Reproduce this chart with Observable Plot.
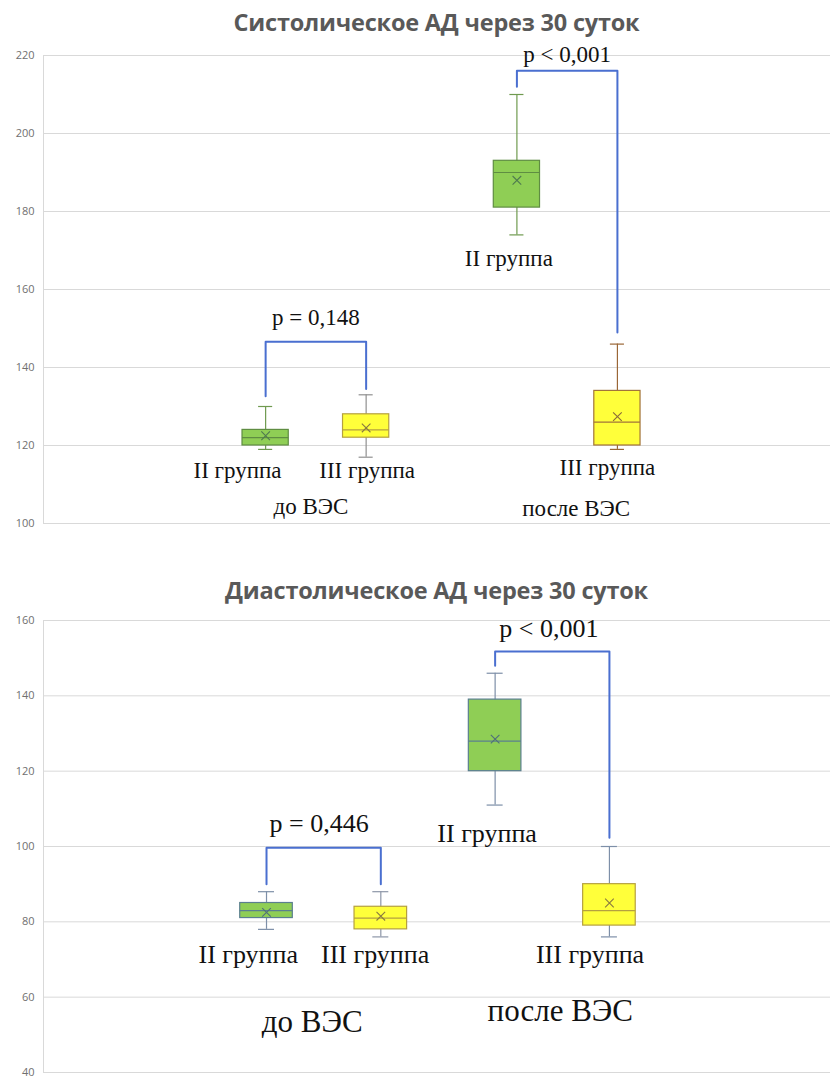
<!DOCTYPE html>
<html><head><meta charset="utf-8">
<script src="https://cdn.jsdelivr.net/npm/d3@7"></script>
<script src="https://cdn.jsdelivr.net/npm/@observablehq/plot@0.6"></script>
<style>
body{margin:0;background:#fff;}
#wrap{position:relative;width:830px;height:1079px;overflow:hidden;background:#fff;}
.title{position:absolute;left:43px;width:787px;text-align:center;font-family:"Open Sans",sans-serif;font-weight:700;font-size:23.5px;color:#595959;line-height:28px;height:28px;white-space:nowrap;letter-spacing:-0.2px;}
.chart{position:absolute;left:0;}
</style></head><body><div id="wrap">
<div class="title" id="t1" style="top:8px"></div>
<div class="chart" id="c1" style="top:40px"></div>
<div class="title" id="t2" style="top:576px"></div>
<div class="chart" id="c2" style="top:605px"></div>
</div>
<script>
// ---- data ----
const titles = ["Систолическое АД через 30 суток", "Диастолическое АД через 30 суток"];
const groups = ["II группа", "III группа", "II группа", "III группа"];
const periods = ["до ВЭС", "до ВЭС", "после ВЭС", "после ВЭС"];

// Systolic (mm Hg)
const sysMin    = [119, 117, 174, 119];
const sysQ1     = [120, 122, 181, 120];
const sysMedian = [122, 124, 190, 126];
const sysQ3     = [124, 128, 193, 134];
const sysMax    = [130, 133, 210, 146];
const sysMean   = [122.5, 124.5, 188, 127.4];
const sysTicks  = [100, 120, 140, 160, 180, 200, 220];
const sysP      = ["p = 0,148", "p < 0,001"];

// Diastolic (mm Hg)
const diaMin    = [78, 76, 111, 76];
const diaQ1     = [81, 78, 120, 79];
const diaMedian = [83, 81, 128, 83];
const diaQ3     = [85, 84, 139, 90];
const diaMax    = [88, 88, 146, 100];
const diaMean   = [82.5, 81.5, 128.5, 85];
const diaTicks  = [40, 60, 80, 100, 120, 140, 160];
const diaP      = ["p = 0,446", "p < 0,001"];

// ---- layout / styles ----
const layoutSys = {
  height: 500, marginTop: 15, marginBottom: 17, yDomain: [100, 220], xDomain: [-1.21, 6.62],
  slots: [1, 2, 3.5, 4.5],
  pairs: [[0, 1], [2, 3]], bTop: [146.6, 216.1], bEndA: [132.6, 212], bEndB: [134.5, 149],
  pX: [1.5, 4.0], pY: [152.7, 220.2], pSize: 23,
  gX: [0.72, 2.01, 3.42, 4.40], gY: [113.5, 113.5, 167.8, 114.4], gSize: 23,
  perX: [1.45, 4.09], perY: [104.3, 103.7], perSize: 23,
  fill:   ["#8fce55", "#ffff3a", "#8fce55", "#ffff3a"],
  stroke: ["#5f8d42", "#b5a040", "#5f8d42", "#a2743a"],
  whisk:  ["#6f9a4f", "#909090", "#6f9a4f", "#9a6636"],
  meanC:  ["#4f7a4f", "#8a7a40", "#4f7a4f", "#8a6a3a"]
};
const layoutDia = {
  height: 474, marginTop: 15, marginBottom: 7, yDomain: [40, 160], xDomain: [-0.951, 5.934],
  slots: [1, 2, 3, 4],
  pairs: [[0, 1], [2, 3]], bTop: [99.7, 151.8], bEndA: [90, 148], bEndB: [90, 102.3],
  pX: [1.46, 3.47], pY: [106, 157.9], pSize: 26,
  gX: [0.84, 1.95, 2.93, 3.83], gY: [71.4, 71.4, 103.4, 71.3], gSize: 26,
  perX: [1.40, 3.57], perY: [53.4, 56.2], perSize: 31,
  fill:   ["#8fce55", "#ffff3a", "#8fce55", "#ffff3a"],
  stroke: ["#5b7f8f", "#b5a040", "#5b7f8f", "#b5a040"],
  whisk:  ["#7d8fa8", "#8d96a8", "#7d8fa8", "#7d8fa8"],
  meanC:  ["#4f6f7a", "#8a7a40", "#4f6f7a", "#8a7a40"]
};

function chart(L, mn, q1, md, q3, mx, mean, ticks, pLabels) {
  const rows = L.slots.map((s, i) => ({s, i, lo: mn[i], q1: q1[i], med: md[i], q3: q3[i], hi: mx[i], mean: mean[i]}));
  const hw = 0.23, cw = 0.07;
  const br = L.pairs.flatMap((p, k) => [
    {k, x: L.slots[p[0]], y: L.bEndA[k]},
    {k, x: L.slots[p[0]], y: L.bTop[k]},
    {k, x: L.slots[p[1]], y: L.bTop[k]},
    {k, x: L.slots[p[1]], y: L.bEndB[k]}
  ]);
  const pRows = pLabels.map((t, k) => ({t, x: L.pX[k], y: L.pY[k]}));
  const gRows = groups.map((t, k) => ({t, x: L.gX[k], y: L.gY[k]}));
  const perRows = ["до ВЭС", "после ВЭС"].map((t, k) => ({t, x: L.perX[k], y: L.perY[k]}));
  const serif = "'Liberation Serif', 'Times New Roman', serif";
  return Plot.plot({
    width: 830, height: L.height,
    marginLeft: 43, marginRight: 0, marginTop: L.marginTop, marginBottom: L.marginBottom,
    x: {type: "linear", domain: L.xDomain, axis: null},
    y: {domain: L.yDomain, axis: null},
    style: {background: "#fff", overflow: "visible"},
    marks: [
      Plot.ruleY(ticks, {stroke: "#d9d9d9", strokeWidth: 1}),
      Plot.ruleX([L.xDomain[0]], {stroke: "#d9d9d9", strokeWidth: 1}),
      Plot.axisY(ticks, {tickSize: 0, tickPadding: 9, fontSize: 11, fontFamily: "'Open Sans', sans-serif", fill: "#707070", anchor: "left"}),
      Plot.line(br, {x: "x", y: "y", z: "k", stroke: "#4a6fd0", strokeWidth: 2}),
      Plot.ruleX(rows, {x: "s", y1: "lo", y2: "hi", stroke: d => L.whisk[d.i], strokeWidth: 1.2}),
      Plot.ruleY(rows, {y: "hi", x1: d => d.s - cw, x2: d => d.s + cw, stroke: d => L.whisk[d.i], strokeWidth: 1.2}),
      Plot.ruleY(rows, {y: "lo", x1: d => d.s - cw, x2: d => d.s + cw, stroke: d => L.whisk[d.i], strokeWidth: 1.2}),
      Plot.rect(rows, {x1: d => d.s - hw, x2: d => d.s + hw, y1: "q1", y2: "q3", fill: d => L.fill[d.i], stroke: d => L.stroke[d.i], strokeWidth: 1.2}),
      Plot.ruleY(rows, {y: "med", x1: d => d.s - hw, x2: d => d.s + hw, stroke: d => L.stroke[d.i], strokeWidth: 1.2}),
      Plot.dot(rows, {x: "s", y: "mean", symbol: "times", r: 4, stroke: d => L.meanC[d.i], strokeWidth: 1.1}),
      Plot.text(pRows, {x: "x", y: "y", text: "t", fontSize: L.pSize, fontFamily: serif, fill: "#111"}),
      Plot.text(gRows, {x: "x", y: "y", text: "t", fontSize: L.gSize, fontFamily: serif, fill: "#111"}),
      Plot.text(perRows, {x: "x", y: "y", text: "t", fontSize: L.perSize, fontFamily: serif, fill: "#111"})
    ]
  });
}

document.getElementById("t1").textContent = titles[0];
document.getElementById("t2").textContent = titles[1];
document.getElementById("c1").append(chart(layoutSys, sysMin, sysQ1, sysMedian, sysQ3, sysMax, sysMean, sysTicks, sysP));
document.getElementById("c2").append(chart(layoutDia, diaMin, diaQ1, diaMedian, diaQ3, diaMax, diaMean, diaTicks, diaP));
</script>
</body></html>
